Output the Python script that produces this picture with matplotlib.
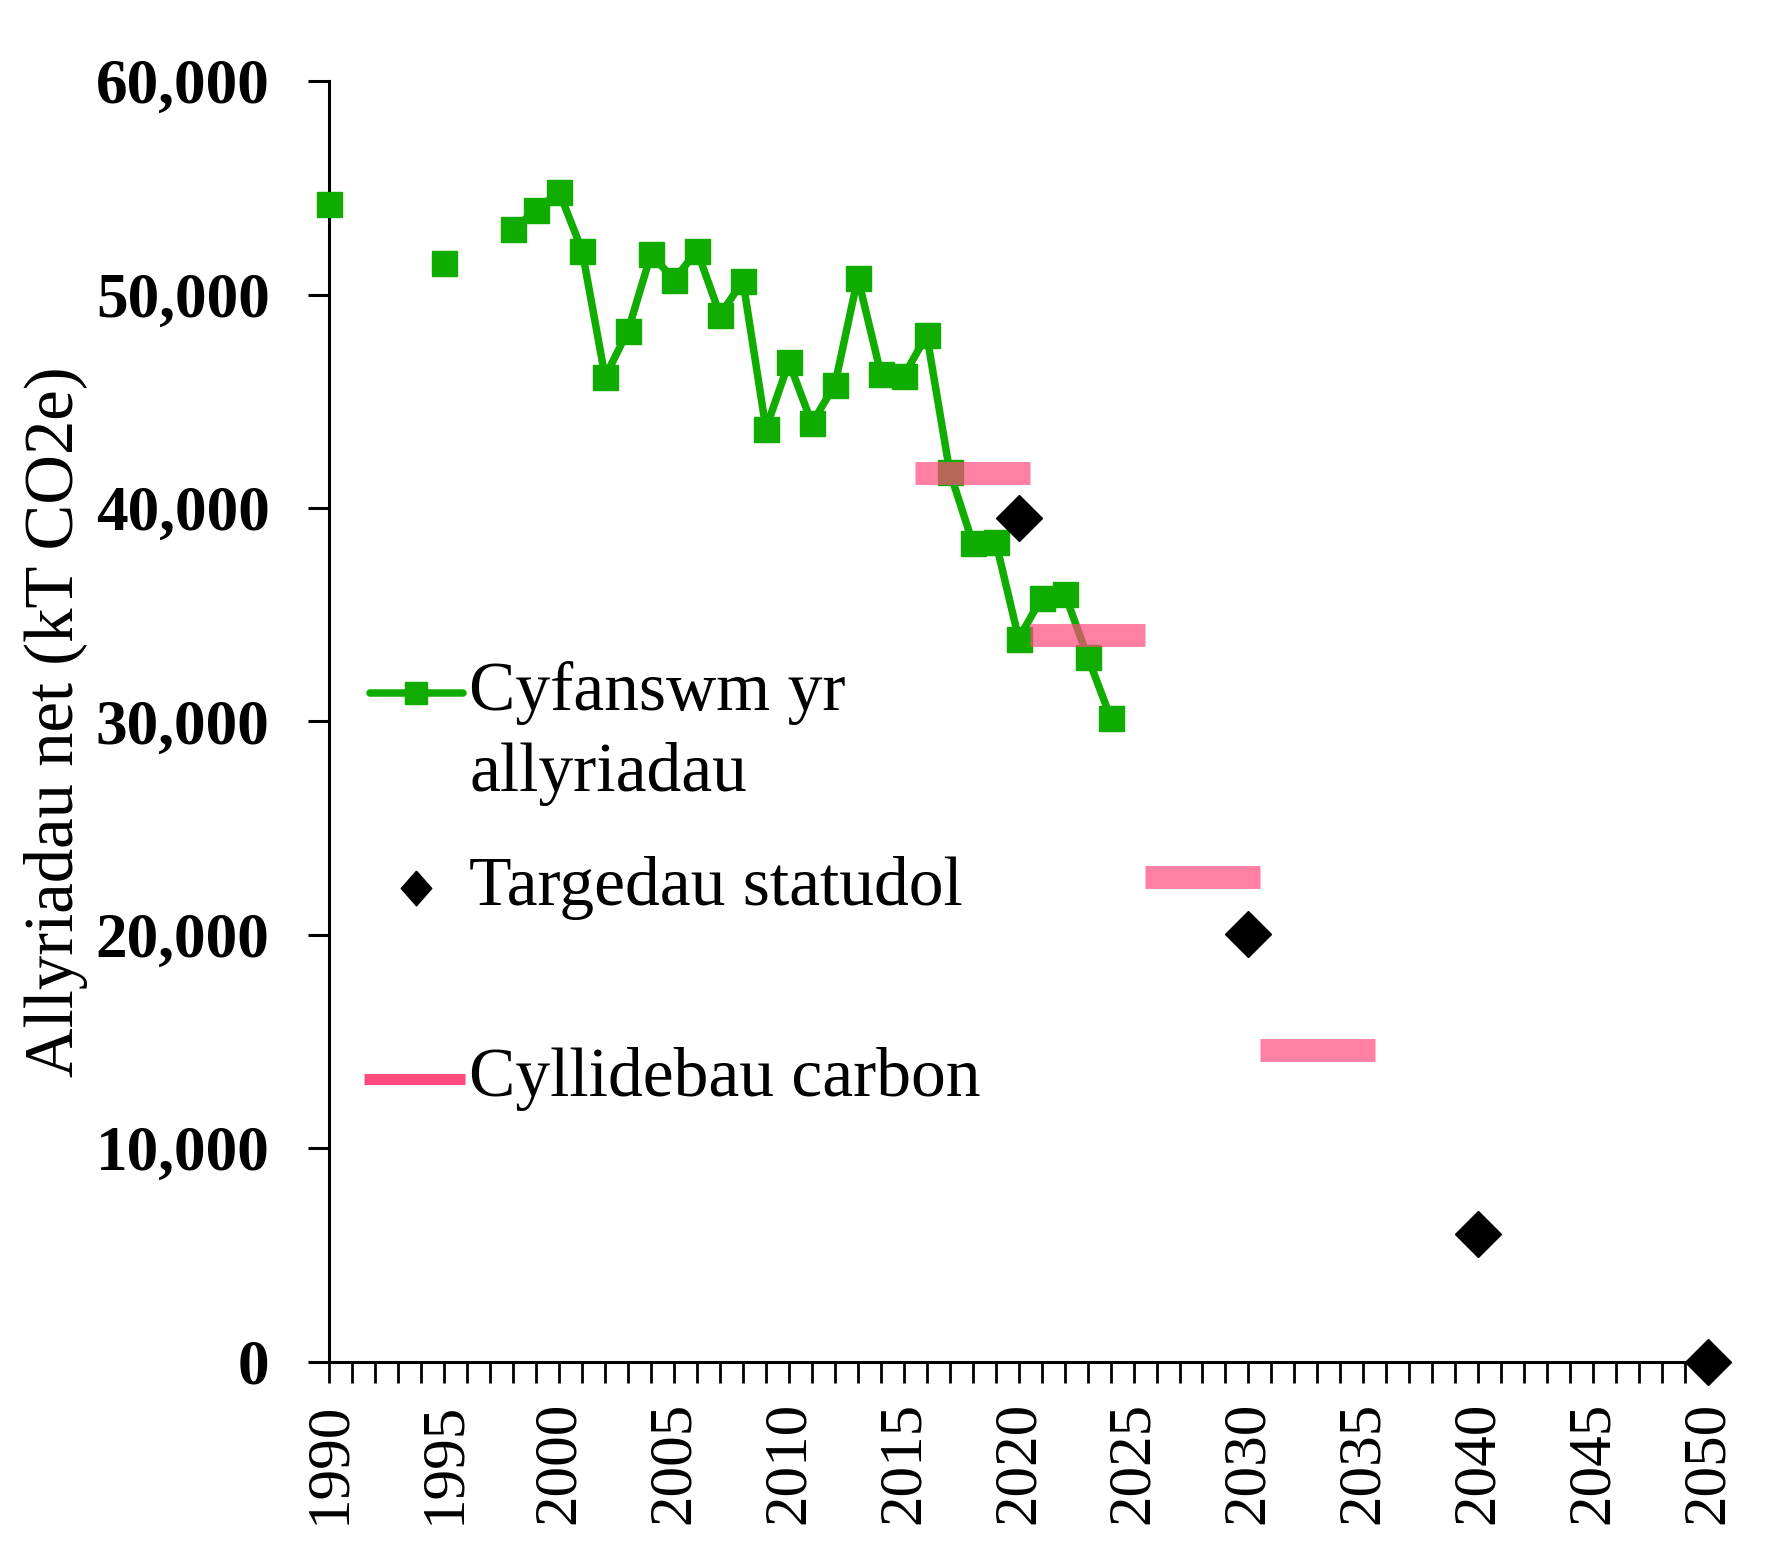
import matplotlib
matplotlib.use("Agg")
import matplotlib.pyplot as plt
from matplotlib.lines import Line2D
from matplotlib.ticker import FuncFormatter, MultipleLocator

# net emissions (kT CO2e)
years = [1990, 1995, 1998, 1999, 2000, 2001, 2002, 2003, 2004, 2005, 2006,
         2007, 2008, 2009, 2010, 2011, 2012, 2013, 2014, 2015, 2016, 2017,
         2018, 2019, 2020, 2021, 2022, 2023, 2024]
emissions = [54230, 51480, 53060, 53960, 54810, 52060, 46140, 48310, 51900,
             50690, 52060, 49050, 50630, 43710, 46830, 43970, 45770, 50790,
             46300, 46190, 48100, 41700, 38370, 38420, 33880, 35780, 35990,
             33030, 30180]

# statutory targets
target_years = [2020, 2030, 2040, 2050]
target_values = [39530, 20030, 5970, 0]

# carbon budgets (five-year periods)
budget_start = [2016, 2021, 2026, 2031]
budget_end = [2020, 2025, 2030, 2035]
budget_values = [41650, 34040, 22730, 14590]

GREEN = "#10AC00"
PINK = "#FF4A7D"
DIAMOND = [(0, 1), (0.88, 0), (0, -1), (-0.88, 0), (0, 1)]

plt.rcParams["font.family"] = ["Liberation Serif", "DejaVu Serif"]

fig = plt.figure(figsize=(17.69, 15.67), dpi=100)
ax = fig.add_axes([0.1862, 0.1311, 0.7793, 0.8171])

# isolated early years, then the continuous series from 1998
ax.plot(years[:2], emissions[:2], ls="none", marker="s", ms=18,
        color=GREEN, zorder=3, clip_on=False)
ax.plot(years[2:], emissions[2:], color=GREEN, lw=5.4, marker="s", ms=18,
        zorder=3)

for s, e, v in zip(budget_start, budget_end, budget_values):
    ax.hlines(v, s - 0.5, e + 0.5, colors=PINK, lw=16.5, alpha=0.7, zorder=4)

ax.plot(target_years, target_values, ls="none", marker="D", ms=23,
        color="black", zorder=5, clip_on=False)

ax.set_xlim(1990, 2050)
ax.set_ylim(0, 60000)
ax.spines["top"].set_visible(False)
ax.spines["right"].set_visible(False)
ax.spines["left"].set_linewidth(2.2)
ax.spines["bottom"].set_linewidth(2.2)

ax.xaxis.set_major_locator(MultipleLocator(5))
ax.xaxis.set_minor_locator(MultipleLocator(1))
ax.yaxis.set_major_locator(MultipleLocator(10000))
ax.yaxis.set_major_formatter(FuncFormatter(lambda v, p: f"{int(v):,}"))
ax.tick_params(axis="x", which="both", length=15, width=2, pad=14,
               labelsize=44, labelrotation=90)
ax.tick_params(axis="y", length=15, width=2.2, pad=28, labelsize=45.5)
for lab in ax.get_yticklabels():
    lab.set_fontweight("bold")

ax.set_ylabel("Allyriadau net (kT CO2e)", fontsize=49.5)
ax.yaxis.set_label_coords(-0.175, 0.5)

# legend drawn in axes coordinates to mimic the original layout
tr = ax.transAxes
ax.add_line(Line2D([0.0295, 0.0966], [0.5225, 0.5225], transform=tr,
                   color=GREEN, lw=5.4, solid_capstyle="round"))
ax.add_line(Line2D([0.0625], [0.5225], transform=tr, marker="s", ms=16,
                   color=GREEN))
ax.text(0.1015, 0.5225, "Cyfanswm yr", transform=tr, fontsize=50,
        va="center", ha="left")
ax.text(0.1015, 0.459, "allyriadau", transform=tr, fontsize=50,
        va="center", ha="left")
ax.add_line(Line2D([0.0625], [0.370], transform=tr, marker=DIAMOND, ms=25,
                   color="black", ls="none"))
ax.text(0.1015, 0.370, "Targedau statudol", transform=tr, fontsize=50,
        va="center", ha="left")
ax.add_line(Line2D([0.0254, 0.0982], [0.2203, 0.2203], transform=tr,
                   color=PINK, lw=8, solid_capstyle="butt"))
ax.text(0.1015, 0.2203, "Cyllidebau carbon", transform=tr, fontsize=50,
        va="center", ha="left")

fig.savefig("out.png", dpi=100)
